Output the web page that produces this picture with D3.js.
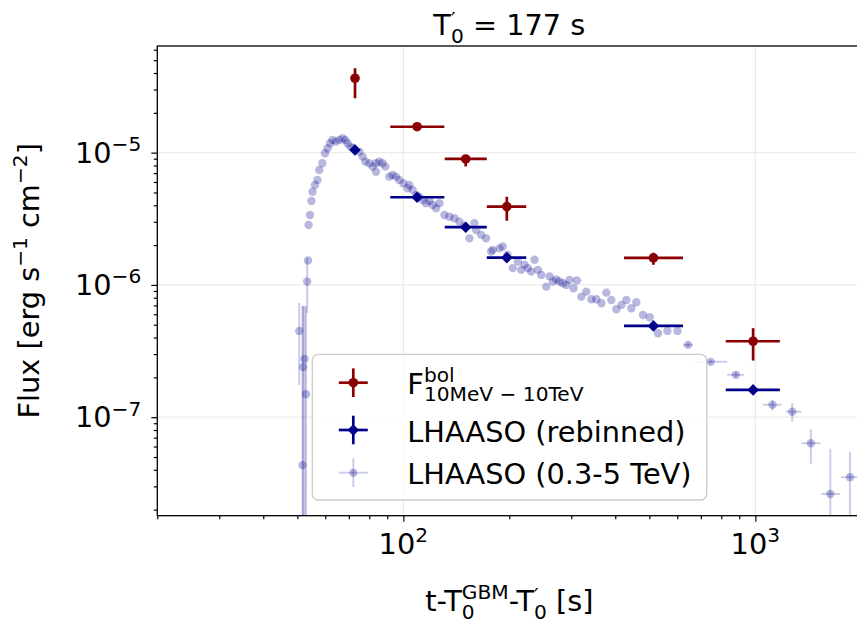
<!DOCTYPE html>
<html>
<head>
<meta charset="utf-8">
<script src="https://cdn.jsdelivr.net/npm/d3@7"></script>
<style>
  body { margin: 0; background: #fff; }
  svg { display: block; }
  text { font-family: "DejaVu Sans", sans-serif; fill: #000; }
</style>
</head>
<body>
<svg id="chart" width="857" height="623"></svg>
<script>
// F_bol (10 MeV - 10 TeV)
const bolT   = [72.9, 109.4, 150.4, 196.8, 513.4, 985.6];
const bolTLo = [72.9, 91.8, 131.1, 172.6, 423.5, 824];
const bolTHi = [72.9, 130.8, 172.6, 223.4, 623.1, 1174];
const bolF   = [3.65e-5, 1.57e-5, 8.96e-6, 3.91e-6, 1.60e-6, 3.75e-7];
const bolFLo = [2.58e-5, 1.52e-5, 7.84e-6, 3.06e-6, 1.42e-6, 2.68e-7];
const bolFHi = [4.35e-5, 1.63e-5, 9.60e-6, 4.65e-6, 1.75e-6, 4.71e-7];

// LHAASO rebinned (same time bins)
const rebF = [1.048e-5, 4.60e-6, 2.73e-6, 1.608e-6, 4.90e-7, 1.608e-7];

// LHAASO 0.3-5 TeV light curve: early points (big flux errors)
const earlyT   = [50.6, 51.7, 51.9, 52.4, 52.9, 53.3];
const earlyF   = [4.49e-7, 4.34e-8, 2.39e-7, 2.76e-7, 1.49e-7, 1.06e-6];
const earlyFLo = [1.75e-7, 1e-9, 1e-9, 1e-9, 1e-9, 6.14e-7];
const earlyFHi = [7.31e-7, 6.94e-7, 6.94e-7, 6.94e-7, 6.94e-7, 1.60e-6];

// dense part (errors hidden under markers)
const denseT = [53.6, 53.8, 54.3, 54.8, 55.2, 56.1, 57.0, 57.7, 58.9, 59.9, 60.9, 61.9, 62.9, 64.3,
  65.8, 67.2, 68.4, 69.4, 70.7, 72.1, 75.0, 76.6, 78.0, 80.0, 81.8, 83.6, 83.6, 85.4, 87.3, 88.9,
  91.2, 93.2, 95.3, 97.4, 100, 102.9, 104.0, 106.3, 108.9, 111.1, 113.5, 116.0, 118.6, 121.2,
  123.9, 126.6, 130.8, 135.2, 139.7, 144.3, 149.1, 154.1, 159.2, 161.0, 166.4, 171.9, 177.6,
  179.5, 187.6, 191.6, 197.6, 204.6, 211.4, 216.2, 220.9, 225.8, 230.8, 235.9, 241.1, 246.5,
  254.7, 260.3, 266.0, 271.9, 277.8, 283.9, 290.3, 296.6, 304.5, 311.2, 320.3, 331.0, 342.0,
  353.4, 365.2, 377.4, 389.9, 402.9, 416.3, 430.2, 444.5, 459.2, 479.5, 501.1, 529.1, 562.6, 600.7];
const denseF = [1.53e-6, 2.84e-6, 3.38e-6, 4.31e-6, 5.07e-6, 5.70e-6, 6.22e-6, 7.40e-6, 8.32e-6,
  9.90e-6, 1.080e-5, 1.178e-5, 1.247e-5, 1.211e-5, 1.247e-5, 1.285e-5, 1.247e-5, 1.178e-5,
  1.110e-5, 1.085e-5, 1.018e-5, 9.33e-6, 8.55e-6, 8.32e-6, 7.84e-6, 8.32e-6, 7.18e-6, 8.55e-6,
  8.32e-6, 7.84e-6, 6.59e-6, 6.78e-6, 6.59e-6, 6.22e-6, 5.87e-6, 5.38e-6, 5.70e-6, 5.23e-6,
  4.79e-6, 4.63e-6, 4.39e-6, 4.15e-6, 4.31e-6, 4.02e-6, 3.80e-6, 4.15e-6, 3.38e-6, 3.28e-6,
  3.19e-6, 3.01e-6, 2.79e-6, 2.25e-6, 2.93e-6, 2.60e-6, 2.39e-6, 2.25e-6, 1.79e-6, 1.84e-6,
  1.89e-6, 1.95e-6, 1.69e-6, 1.34e-6, 1.50e-6, 1.30e-6, 1.42e-6, 1.34e-6, 1.26e-6, 1.55e-6,
  1.30e-6, 1.19e-6, 9.71e-7, 1.16e-6, 1.06e-6, 1.10e-6, 1.06e-6, 1.03e-6, 1.00e-6, 1.09e-6,
  9.44e-7, 1.08e-6, 8.15e-7, 8.90e-7, 7.79e-7, 7.79e-7, 7.27e-7, 8.74e-7, 7.70e-7, 6.55e-7,
  7.06e-7, 7.70e-7, 6.67e-7, 7.40e-7, 5.93e-7, 5.70e-7, 4.31e-7, 4.49e-7, 4.49e-7];

// tail (visible time and flux errors)
const tailT   = [644.0, 746.9, 880.3, 1119, 1273, 1438, 1633, 1857];
const tailTLo = [624, 672.9, 831.6, 1052, 1221, 1353, 1539, 1751];
const tailTHi = [665, 831.6, 927.5, 1187, 1353, 1533, 1740, 1983];
const tailF   = [3.52e-7, 2.62e-7, 2.09e-7, 1.24e-7, 1.10e-7, 6.36e-8, 2.63e-8, 3.52e-8];
const tailFLo = [3.40e-7, 2.55e-7, 1.99e-7, 1.12e-7, 9.26e-8, 4.44e-8, 1e-9, 1e-9];
const tailFHi = [3.65e-7, 2.70e-7, 2.20e-7, 1.35e-7, 1.28e-7, 8.11e-8, 5.73e-8, 5.50e-8];

const xMajor = [100, 1000];
const yMajor = [1e-7, 1e-6, 1e-5];

const red = '#8b0000', blue = '#00008b';
const fs = 28.8;

const svg = d3.select('#chart');
const pLeft = 157.3, pRight = 861.3, pTop = 46, pBottom = 515.7;

const x = d3.scaleLog().domain([20, 2000]).range([pLeft, pRight]);
const y = d3.scaleLog().domain([1.8e-8, 6.4e-5]).range([pBottom, pTop]);

// mathtext-like text: pieces with optional small size, baseline shift and stacking
function richText(parent, pieces, size) {
    let g = parent.append('g');
    let cx = 0, stackW = 0;
    pieces.forEach(p => {
        let s = size * (p.small ? 0.7 : 1);
        let t = g.append('text')
            .attr('x', cx)
            .attr('y', (p.dy || 0) * size)
            .attr('font-size', s)
            .attr('xml:space', 'preserve')
            .text(p.t);
        let w = t.node().getComputedTextLength();
        if (p.stack) {
            stackW = w;
        } else {
            cx += Math.max(w, stackW);
            stackW = 0;
        }
    });
    return {g: g, width: cx};
}

svg.append('defs').append('clipPath').attr('id', 'plotClip')
    .append('rect')
    .attr('x', pLeft).attr('y', pTop)
    .attr('width', pRight - pLeft).attr('height', pBottom - pTop);

// grid
let grid = svg.append('g').attr('stroke', '#ebebeb').attr('stroke-width', 1.3);
grid.selectAll('line.gx').data(xMajor).join('line')
    .attr('x1', d => x(d)).attr('x2', d => x(d))
    .attr('y1', pTop).attr('y2', pBottom);
grid.selectAll('line.gy').data(yMajor).join('line')
    .attr('x1', pLeft).attr('x2', pRight)
    .attr('y1', d => y(d)).attr('y2', d => y(d));

// axes ticks
let xMinor = [];
[10, 100, 1000].forEach(b => d3.range(2, 10).forEach(k => {
    let v = b * k;
    if (v >= 20 && v <= 2000) xMinor.push(v);
}));
let yMinor = [];
[1e-8, 1e-7, 1e-6, 1e-5].forEach(b => d3.range(2, 10).forEach(k => {
    let v = b * k;
    if (v >= 1.8e-8 && v <= 6.4e-5) yMinor.push(v);
}));

function tickAxis(axis, vals, size, transform) {
    let g = svg.append('g').attr('transform', transform)
        .call(axis.tickValues(vals).tickSize(size).tickFormat(''));
    g.select('.domain').remove();
    g.selectAll('line').attr('stroke', '#000').attr('stroke-width', 1.2);
}
tickAxis(d3.axisBottom(x), xMinor, 3.5, `translate(0,${pBottom})`);
tickAxis(d3.axisBottom(x), xMajor, 6, `translate(0,${pBottom})`);
tickAxis(d3.axisLeft(y), yMinor, 3.5, `translate(${pLeft},0)`);
tickAxis(d3.axisLeft(y), yMajor, 6, `translate(${pLeft},0)`);

// data
let plot = svg.append('g').attr('clip-path', 'url(#plotClip)');

let light = [];
earlyT.forEach((t, i) => light.push({t: t, f: earlyF[i], tlo: t, thi: t, flo: earlyFLo[i], fhi: earlyFHi[i]}));
denseT.forEach((t, i) => light.push({t: t, f: denseF[i], tlo: t, thi: t, flo: denseF[i], fhi: denseF[i]}));
tailT.forEach((t, i) => light.push({t: t, f: tailF[i], tlo: tailTLo[i], thi: tailTHi[i], flo: tailFLo[i], fhi: tailFHi[i]}));

let bol = bolT.map((t, i) => ({t: t, f: bolF[i], tlo: bolTLo[i], thi: bolTHi[i], flo: bolFLo[i], fhi: bolFHi[i]}));
let reb = bolT.map((t, i) => ({t: t, f: rebF[i], tlo: bolTLo[i], thi: bolTHi[i], flo: rebF[i], fhi: rebF[i]}));

function errorBars(data, color, opacity, width) {
    let g = plot.append('g').attr('stroke', color).attr('stroke-opacity', opacity).attr('stroke-width', width);
    g.selectAll('line.h').data(data.filter(d => d.thi > d.tlo)).join('line')
        .attr('x1', d => x(d.tlo)).attr('x2', d => x(d.thi))
        .attr('y1', d => y(d.f)).attr('y2', d => y(d.f));
    g.selectAll('line.v').data(data.filter(d => d.fhi > d.flo)).join('line')
        .attr('x1', d => x(d.t)).attr('x2', d => x(d.t))
        .attr('y1', d => y(d.flo)).attr('y2', d => y(d.fhi));
}

const diamond = r => `M0,${-r}L${r},0L0,${r}L${-r},0Z`;

errorBars(light, blue, 0.2, 2);
plot.append('g').selectAll('circle').data(light).join('circle')
    .attr('cx', d => x(d.t)).attr('cy', d => y(d.f)).attr('r', 4.2)
    .attr('fill', blue).attr('fill-opacity', 0.28);

errorBars(reb, blue, 1, 2.7);
plot.append('g').selectAll('path').data(reb).join('path')
    .attr('transform', d => `translate(${x(d.t)},${y(d.f)})`)
    .attr('d', diamond(5.8)).attr('fill', blue);

errorBars(bol, red, 1, 2.7);
plot.append('g').selectAll('circle').data(bol).join('circle')
    .attr('cx', d => x(d.t)).attr('cy', d => y(d.f)).attr('r', 4.8)
    .attr('fill', red);

// spines
svg.append('rect')
    .attr('x', pLeft).attr('y', pTop)
    .attr('width', pRight - pLeft).attr('height', pBottom - pTop)
    .attr('fill', 'none').attr('stroke', '#000').attr('stroke-width', 1.3);

// tick labels
let expo = {'-5': '\u22125', '-6': '\u22126', '-7': '\u22127', '2': '2', '3': '3'};
xMajor.forEach(v => {
    let e = String(Math.round(Math.log10(v)));
    let r = richText(svg, [{t: '10'}, {t: expo[e], small: true, dy: -0.4}], fs);
    r.g.attr('transform', `translate(${x(v) - r.width / 2},554)`);
});
yMajor.forEach(v => {
    let e = String(Math.round(Math.log10(v)));
    let r = richText(svg, [{t: '10'}, {t: expo[e], small: true, dy: -0.4}], fs);
    r.g.attr('transform', `translate(${pLeft - 16 - r.width},${y(v) + 10})`);
});

// title
let title = richText(svg, [
    {t: 'T'}, {t: '\u2032', small: true, dy: -0.3, stack: true}, {t: '0', small: true, dy: 0.27},
    {t: ' = 177 s'}
], fs);
title.g.attr('transform', `translate(${(pLeft + pRight) / 2 - title.width / 2},35)`);

// x label
let xl = richText(svg, [
    {t: 't-T'}, {t: 'GBM', small: true, dy: -0.4, stack: true}, {t: '0', small: true, dy: 0.28},
    {t: '-T'}, {t: '\u2032', small: true, dy: -0.3, stack: true}, {t: '0', small: true, dy: 0.28},
    {t: ' [s]'}
], fs);
xl.g.attr('transform', `translate(${(pLeft + pRight) / 2 - xl.width / 2},611)`);

// y label
let yl = richText(svg, [
    {t: 'Flux [erg s'}, {t: '\u22121', small: true, dy: -0.4},
    {t: ' cm'}, {t: '\u22122', small: true, dy: -0.4}, {t: ']'}
], fs);
yl.g.attr('transform', `translate(39,${(pTop + pBottom) / 2 + yl.width / 2}) rotate(-90)`);

// legend
let leg = svg.append('g');
leg.append('rect')
    .attr('x', 312.3).attr('y', 354.3).attr('width', 394.4).attr('height', 145.7)
    .attr('rx', 6).attr('fill', '#fff').attr('fill-opacity', 0.8)
    .attr('stroke', '#cccccc').attr('stroke-width', 1.3);

const legendRows = [
    {cy: 382.7, color: red, op: 1, w: 2.7, marker: 'circle'},
    {cy: 430, color: blue, op: 1, w: 2.7, marker: 'diamond'},
    {cy: 472.7, color: blue, op: 0.2, w: 2, marker: 'light'}
];
legendRows.forEach(r => {
    let hx = 353.3;
    leg.append('line').attr('x1', hx - 14.5).attr('x2', hx + 14.5).attr('y1', r.cy).attr('y2', r.cy)
        .attr('stroke', r.color).attr('stroke-opacity', r.op).attr('stroke-width', r.w);
    leg.append('line').attr('x1', hx).attr('x2', hx).attr('y1', r.cy - 14.3).attr('y2', r.cy + 14.3)
        .attr('stroke', r.color).attr('stroke-opacity', r.op).attr('stroke-width', r.w);
    if (r.marker === 'circle') {
        leg.append('circle').attr('cx', hx).attr('cy', r.cy).attr('r', 4.8).attr('fill', r.color);
    } else if (r.marker === 'diamond') {
        leg.append('path').attr('transform', `translate(${hx},${r.cy})`).attr('d', diamond(5.8)).attr('fill', r.color);
    } else {
        leg.append('circle').attr('cx', hx).attr('cy', r.cy).attr('r', 4).attr('fill', r.color).attr('fill-opacity', 0.28);
    }
});

let l1 = richText(leg, [
    {t: 'F'}, {t: 'bol', small: true, dy: -0.42, stack: true}, {t: '10MeV \u2212 10TeV', small: true, dy: 0.25}
], fs);
l1.g.attr('transform', 'translate(407.3,394)');
let l2 = richText(leg, [{t: 'LHAASO (rebinned)'}], fs);
l2.g.attr('transform', 'translate(407.3,441.5)');
let l3 = richText(leg, [{t: 'LHAASO (0.3-5 TeV)'}], fs);
l3.g.attr('transform', 'translate(407.3,484)');
</script>
</body>
</html>
